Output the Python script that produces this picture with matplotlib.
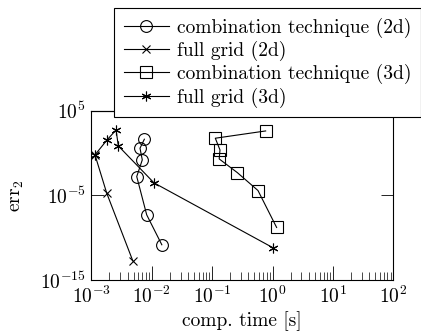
import matplotlib
matplotlib.use('Agg')
import matplotlib.pyplot as plt
from matplotlib.ticker import NullLocator, LogLocator

# comp. time [s] / err_2 values
ct2d_time = [7.55e-3, 6.4e-3, 6.98e-3, 5.65e-3, 8.26e-3, 1.47e-2]
ct2d_err = [42.5, 3.7, 0.155, 1.66e-3, 5e-8, 1.45e-11]

fg2d_time = [1.15e-3, 1.8e-3, 4.84e-3]
fg2d_err = [0.6, 1.8e-5, 2e-13]

ct3d_time = [0.77, 0.113, 0.135, 0.131, 0.261, 0.575, 1.17]
ct3d_err = [404, 56, 2.3, 0.2, 4.9e-3, 3.7e-5, 1.6e-9]

fg3d_time = [1.15e-3, 1.82e-3, 2.57e-3, 2.8e-3, 1.09e-2, 1.02]
fg3d_err = [0.6, 35, 527, 6.9, 3e-4, 6.4e-12]

plt.rcParams['font.family'] = 'serif'
plt.rcParams['font.serif'] = ['cmr10']
plt.rcParams['mathtext.fontset'] = 'cm'
plt.rcParams['axes.formatter.use_mathtext'] = True
plt.rcParams['font.size'] = 14

fig = plt.figure(figsize=(4.21, 3.31), dpi=100)
ax = fig.add_axes([0.2169, 0.1541, 0.7173, 0.5115])

lw = 0.8
ax.plot(ct2d_time, ct2d_err, color='black', lw=lw, marker='o', ms=8.5,
        mfc='none', mew=lw, label='combination technique (2d)')
ax.plot(fg2d_time, fg2d_err, color='black', lw=lw, marker='x', ms=6,
        mew=lw, label='full grid (2d)')
ax.plot(ct3d_time, ct3d_err, color='black', lw=lw, marker='s', ms=8,
        mfc='none', mew=lw, label='combination technique (3d)')
ax.plot(fg3d_time, fg3d_err, color='black', lw=lw, marker=(6, 2, 0), ms=7,
        mew=lw, label='full grid (3d)')

ax.set_xscale('log')
ax.set_yscale('log')
ax.set_xlim(1e-3, 1e2)
ax.set_ylim(1e-15, 1e5)
ax.set_yticks([1e-15, 1e-5, 1e5])
ax.yaxis.set_minor_locator(NullLocator())
ax.xaxis.set_minor_locator(LogLocator(base=10, subs=range(2, 10), numticks=20))

ax.tick_params(which='major', axis='x', direction='in', length=10, width=0.6,
               top=False, bottom=True)
ax.tick_params(which='minor', axis='x', direction='in', length=6, width=0.5,
               top=False, bottom=True)
ax.tick_params(axis='y', which='major', direction='in', length=9, width=0.6,
               left=True, right=True)
ax.tick_params(axis='both', which='major', pad=4)

top = ax.secondary_xaxis('top')
top.tick_params(which='major', direction='in', length=4, width=0.6, labeltop=False)
top.tick_params(which='minor', length=0)

for sp in ax.spines.values():
    sp.set_linewidth(0.8)

ax.set_xlabel('comp. time [s]', labelpad=3)
ax.set_ylabel(r'$\mathrm{err}_2$', labelpad=10)

leg = fig.legend(loc='upper left', bbox_to_anchor=(0.2715, 0.9758),
                 bbox_transform=fig.transFigure, frameon=True, fancybox=False,
                 edgecolor='black', framealpha=1, handlelength=2.3,
                 handletextpad=0.4, borderpad=0.5, labelspacing=0.16,
                 borderaxespad=0)
leg.get_frame().set_linewidth(0.8)

fig.savefig('out.png', dpi=100)
